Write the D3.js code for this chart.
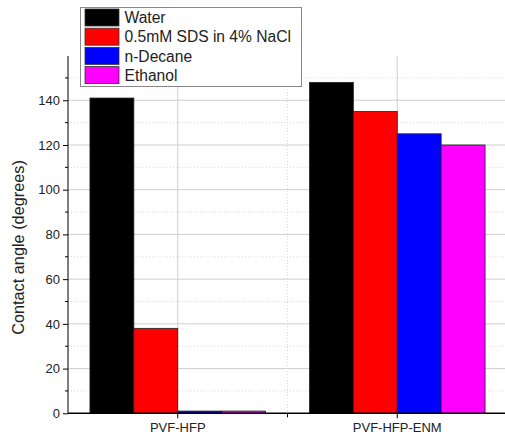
<!DOCTYPE html>
<html><head><meta charset="utf-8">
<script src="https://cdn.jsdelivr.net/npm/d3@7"></script>
<style>body{margin:0;background:#fff}svg{display:block}text{font-family:"Liberation Sans",Arial,sans-serif;fill:#222}</style>
</head><body><svg id="c" width="505" height="439"></svg>
<script>
const categories = ["PVF-HFP", "PVF-HFP-ENM"];
const seriesNames = ["Water", "0.5mM SDS in 4% NaCl", "n-Decane", "Ethanol"];
const seriesColors = ["#000000", "#ff0000", "#0000ff", "#ff00ff"];
const water = [141, 148];
const sds = [38, 135];
const decane = [1, 125];
const ethanol = [1, 120];
const yTicks = [0, 20, 40, 60, 80, 100, 120, 140];
const yLabel = "Contact angle (degrees)";

const values = [water, sds, decane, ethanol];
const svg = d3.select("#c");
const L = 68, R = 507, T = 56, B = 413.3;
const x = d3.scaleBand().domain(categories).range([L, R]).paddingInner(0).paddingOuter(0);
const y = d3.scaleLinear().domain([0, 159.8]).range([B, T]);
const inner = d3.scaleBand().domain(seriesNames).range([0, x.bandwidth() * 0.8]);
const off = x.bandwidth() * 0.1;

// minor grid
const minor = d3.range(10, 160, 20);
svg.append("g").selectAll("line").data(minor).join("line")
  .attr("x1", L).attr("x2", R).attr("y1", d => y(d)).attr("y2", d => y(d))
  .attr("stroke", "#d8d8d8").attr("stroke-width", 1).attr("stroke-dasharray", "1,2");
// major grid
svg.append("g").selectAll("line").data(yTicks.slice(1)).join("line")
  .attr("x1", L).attr("x2", R).attr("y1", d => y(d)).attr("y2", d => y(d))
  .attr("stroke", "#cfcfcf").attr("stroke-width", 1);
// vertical grid
svg.append("g").selectAll("line").data(categories).join("line")
  .attr("x1", d => x(d) + x.bandwidth() / 2).attr("x2", d => x(d) + x.bandwidth() / 2)
  .attr("y1", T).attr("y2", B).attr("stroke", "#cfcfcf");
svg.append("line").attr("x1", x(categories[1])).attr("x2", x(categories[1]))
  .attr("y1", T).attr("y2", B).attr("stroke", "#d8d8d8").attr("stroke-dasharray", "1,2");

// bars
const groups = svg.append("g").selectAll("g").data(categories).join("g")
  .attr("transform", d => `translate(${x(d) + off},0)`);
groups.selectAll("rect").data((c, ci) => seriesNames.map((s, si) => ({s, si, v: values[si][ci]}))).join("rect")
  .attr("x", d => inner(d.s)).attr("width", inner.bandwidth())
  .attr("y", d => y(d.v)).attr("height", d => y(0) - y(d.v))
  .attr("fill", d => seriesColors[d.si]).attr("stroke", "#222").attr("stroke-width", 0.8);

// y axis
const yAxis = svg.append("g").attr("transform", `translate(${L},0)`)
  .call(d3.axisLeft(y).tickValues(yTicks).tickSize(5).tickPadding(3));
yAxis.select(".domain").attr("d", `M0,${B}V${T}`).attr("stroke", "#000");
yAxis.selectAll("text").style("font-size", "13px").attr("fill", "#222");
svg.append("g").selectAll("line").data(minor).join("line")
  .attr("x1", L - 3).attr("x2", L).attr("y1", d => y(d)).attr("y2", d => y(d)).attr("stroke", "#000");

// x axis
const xAxis = svg.append("g").attr("transform", `translate(0,${B})`)
  .call(d3.axisBottom(x).tickSize(5).tickPadding(4));
xAxis.select(".domain").attr("d", `M${L},0H${R}`).attr("stroke", "#000").attr("stroke-width", 1.5);
xAxis.selectAll("text").style("font-size", "13px").attr("fill", "#222");
svg.append("line").attr("x1", x(categories[1])).attr("x2", x(categories[1]))
  .attr("y1", B).attr("y2", B + 4).attr("stroke", "#000");

// y label
svg.append("text").attr("transform", `translate(24,247.5) rotate(-90)`)
  .attr("text-anchor", "middle").style("font-size", "16.3px").text(yLabel);

// legend
const lg = svg.append("g");
lg.append("rect").attr("x", 80.5).attr("y", 7.5).attr("width", 221).attr("height", 79)
  .attr("fill", "#fff").attr("stroke", "#888");
const row = lg.selectAll("g").data(seriesNames).join("g")
  .attr("transform", (d, i) => `translate(0,${9 + i * 19.2})`);
row.append("rect").attr("x", 85).attr("y", 0).attr("width", 34).attr("height", 17)
  .attr("fill", (d, i) => seriesColors[i]).attr("stroke", "#333").attr("stroke-width", 0.8);
row.append("text").attr("x", 124.5).attr("y", 14.3).style("font-size", "15.6px").attr("fill", "#111").text(d => d);
</script></body></html>
